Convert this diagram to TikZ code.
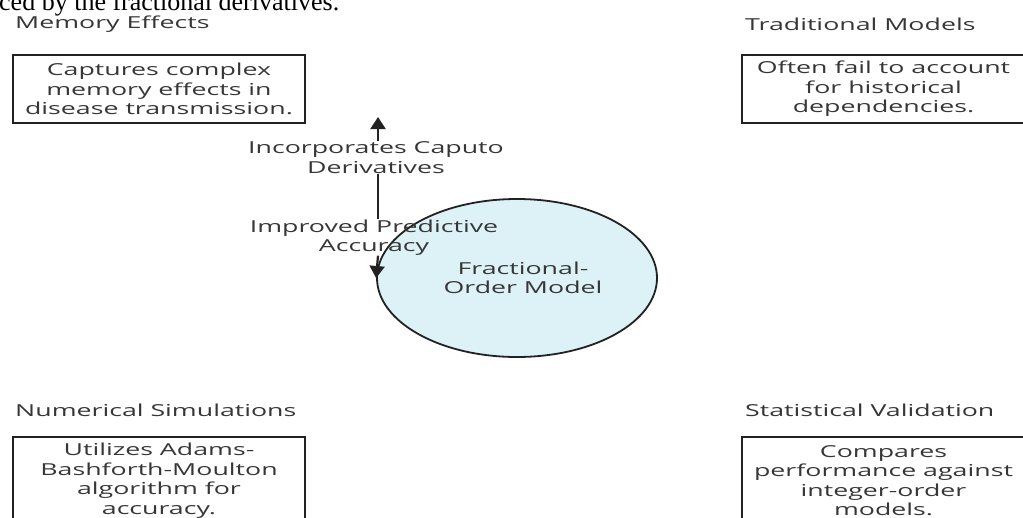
\documentclass[tikz,border=0pt]{standalone}
\usepackage{fontspec}
\setmainfont{Open Sans}[FakeStretch=1.62]
\newfontfamily\pageserif{Liberation Serif}
\usetikzlibrary{arrows.meta,shapes.geometric}
\definecolor{boxline}{HTML}{222222}
\definecolor{txt}{HTML}{363636}
\definecolor{ellfill}{HTML}{DDF2F7}
\tikzset{
  every node/.style={font=\fontsize{16.5}{19.5}\selectfont, text=txt},
  titlelbl/.style={anchor=west, inner sep=0pt},
  infobox/.style={draw=boxline, line width=2pt, align=center, inner sep=0pt, minimum width=292pt},
  edgelbl/.style={align=center, inner sep=0pt},
  conn/.style={draw=boxline, line width=2.2pt},
  arr/.style={conn, -{Triangle[length=12pt,width=15pt]}},
  fomstyle/.style={ellipse, draw=boxline, line width=1.8pt, fill=ellfill, minimum width=280pt, minimum height=158pt, align=center}
}
\begin{document}
\begin{tikzpicture}[x=1pt, y=-1pt]
\useasboundingbox (0,0) rectangle (1023,517);
\clip (0,0) rectangle (1023,517);
% page text cut off at top
\node[anchor=base west, inner sep=0pt, font=\pageserif\fontsize{26}{28}\selectfont, text=black] (pagetxt) at (-1,10) {ced by the fractional derivatives.};
% titles
\node[titlelbl] (t1) at (15,24) {Memory Effects};
\node[titlelbl] (t2) at (745,24) {Traditional Models};
\node[titlelbl] (t3) at (15,410) {Numerical Simulations};
\node[titlelbl] (t4) at (745,410) {Statistical Validation};
% boxes
\node[infobox, minimum height=68pt] (b1) at (159,89) {Captures complex\\memory effects in\\disease transmission.};
\node[infobox, minimum width=283pt, minimum height=68pt] (b2) at (883.5,89) {Often fail to account\\for historical\\dependencies.};
\node[infobox, minimum height=87pt] (b3) at (159,480.5) {Utilizes Adams-\\Bashforth-Moulton\\algorithm for\\accuracy.};
\node[infobox, minimum width=283pt, minimum height=87pt] (b4) at (883.5,480.5) {Compares\\performance against\\integer-order\\models.};
% central ellipse
\node[fomstyle] (fom) at (517,278) {};
\node[edgelbl] (fomtxt) at (523,278) {Fractional-\\Order Model};
% edge labels
\node[edgelbl] (lab1) at (376,157.5) {Incorporates Caputo\\Derivatives};
\node[edgelbl] (lab2) at (374,237.5) {Improved Predictive\\Accuracy};
\coordinate (uptip) at (378,117);
\draw[arr] (lab1.north -| uptip) -- (uptip);
\draw[conn] (lab1.south -| uptip) -- (lab2.north -| uptip);
\draw[arr] (lab2.south -| uptip) -- (fom.west);
\end{tikzpicture}
\end{document}
